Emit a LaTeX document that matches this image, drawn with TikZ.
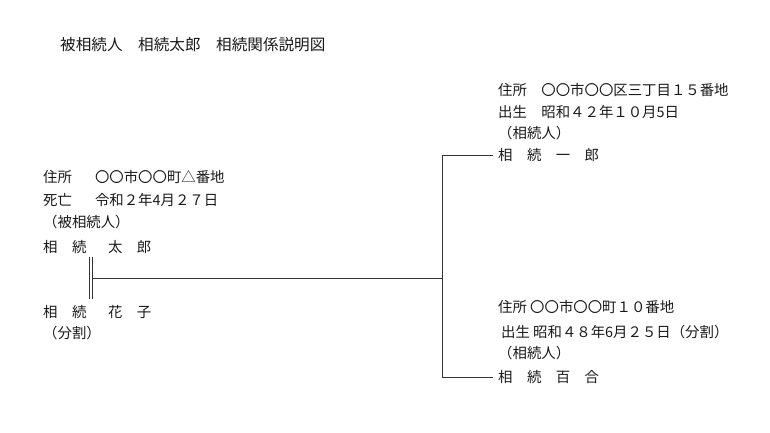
\documentclass[tikz,border=0pt]{standalone}
\usepackage{fontspec}
\setmainfont{Noto Sans CJK JP}
\usetikzlibrary{positioning}

\begin{document}
\begin{tikzpicture}[x=1pt, y=-1pt,
    txt/.style={anchor=west, inner sep=0pt, text=black!90,
        font=\fontsize{14.4}{17}\selectfont},
    ttl/.style={txt, font=\fontsize{15.6}{18}\selectfont},
    rel/.style={draw=black!80, line width=0.9pt}]
    \useasboundingbox (0,0) rectangle (770,433);
    % title
    \node[ttl] (title) at (60,45) {被相続人　相続太郎　相続関係説明図};
    % deceased and spouse
    \node[txt] (addrT) at (43,177) {住所\hspace{1.6em}〇〇市〇〇町△番地};
    \node[txt] (deathT) at (43,200) {死亡\hspace{1.6em}令和２年4月２７日};
    \node[txt] (roleT) at (43,222) {（被相続人）};
    \node[txt] (taro) at (43,247) {相\hspace{1em}続\hspace{1.5em}太\hspace{1em}郎};
    \node[txt] (hanako) at (43,312) {相\hspace{1em}続\hspace{1.5em}花\hspace{1em}子};
    \node[txt] (splitH) at (43,333) {（分割）};
    % heirs
    \node[txt] (addrI) at (498,90) {住所　〇〇市〇〇区三丁目１５番地};
    \node[txt] (birthI) at (498,112) {出生　昭和４２年１０月5日};
    \node[txt] (roleI) at (498,133) {（相続人）};
    \node[txt] (ichiro) at (498,155) {相　続　一　郎};
    \node[txt] (addrY) at (498,307) {住所 〇〇市〇〇町１０番地};
    \node[txt] (birthY) at (501,332) {出生 昭和４８年6月２５日（分割）};
    \node[txt] (roleY) at (498,353) {（相続人）};
    \node[txt] (yuri) at (498,377) {相　続　百　合};
    % marriage (double bar) and descent lines
    \coordinate (wedTop) at (89,257);
    \coordinate (wedBot) at (89,299);
    \coordinate (wed) at (92.5,278);
    \coordinate (branch) at (442,278);
    \coordinate (topK) at (branch |- ichiro.west);
    \coordinate (botK) at (branch |- yuri.west);
    \draw[rel] (wedTop) -- (wedBot);
    \draw[rel] (wedTop -| wed) -- (wedBot -| wed);
    \draw[rel] (wed) -- (branch);
    \draw[rel] (topK) -- (botK);
    \draw[rel, shorten >=5pt] (topK) -- (ichiro.west);
    \draw[rel, shorten >=5pt] (botK) -- (yuri.west);
\end{tikzpicture}
\end{document}
